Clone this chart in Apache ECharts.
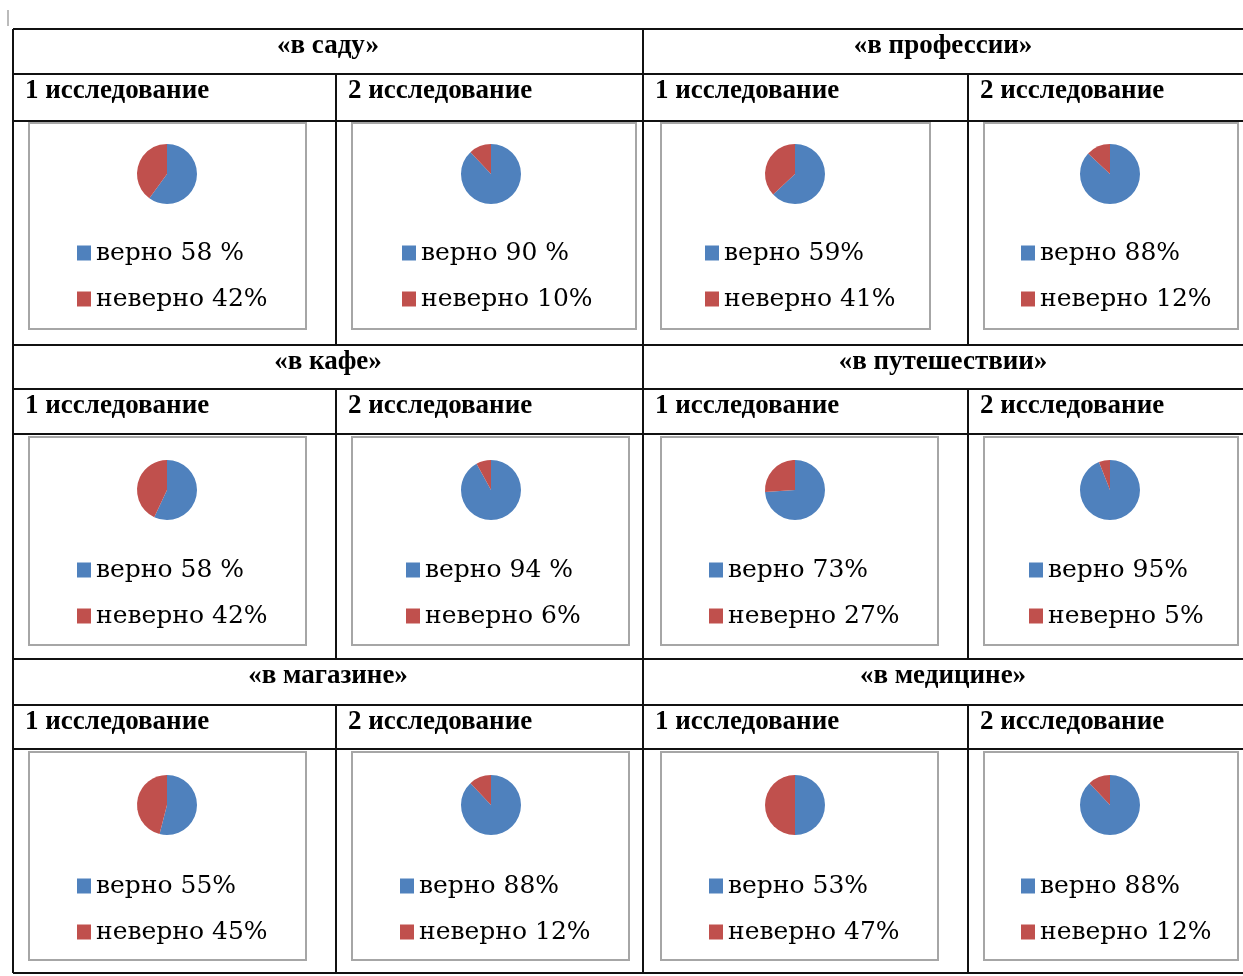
<!DOCTYPE html>
<html>
<head>
<meta charset="utf-8">
<script src="https://cdn.jsdelivr.net/npm/echarts@6/dist/echarts.min.js"></script>
<style>
  html, body { margin: 0; padding: 0; background: #fff; }
  #chartTable { width: 1243px; height: 976px; }
</style>
</head>
<body>
<div id="chartTable"></div>
<script>
// topics (two per block row) and study headers
const topics = ['«в саду»', '«в профессии»', '«в кафе»', '«в путешествии»', '«в магазине»', '«в медицине»'];
const studies = ['1 исследование', '2 исследование'];

// legend texts, one per pie, in reading order
const correctLabels = ['верно 58 %', 'верно 90 %', 'верно 59%', 'верно 88%',
  'верно 58 %', 'верно 94 %', 'верно 73%', 'верно 95%',
  'верно 55%', 'верно 88%', 'верно 53%', 'верно 88%'];
const wrongLabels = ['неверно 42%', 'неверно 10%', 'неверно 41%', 'неверно 12%',
  'неверно 42%', 'неверно 6%', 'неверно 27%', 'неверно 5%',
  'неверно 45%', 'неверно 12%', 'неверно 47%', 'неверно 12%'];

// slice sizes
const correctValues = [60, 88, 63, 87, 57, 92, 74, 94, 54, 88, 50, 88];
const wrongValues = [40, 12, 37, 13, 43, 8, 26, 6, 46, 12, 50, 12];

// layout
const colX = [13, 336, 643, 968, 1243];
const hLines = [29, 74, 121, 345, 389, 434, 659, 705, 749, 973];
const boxX = [[29, 306], [352, 636], [661, 930], [984, 1238],
  [29, 306], [352, 629], [661, 938], [984, 1238],
  [29, 306], [352, 629], [661, 938], [984, 1238]];
const boxY = [[123, 329], [437, 645], [752, 960]];
const pieX = [167, 491, 795, 1110];
const pieY = [174, 490, 805];
const legendLeft = [77, 402, 705, 1021, 77, 406, 709, 1029, 77, 400, 709, 1021];
const legendMid = [253, 570, 886];

const BLUE = '#4f81bd';
const RED = '#c0504d';
const LEGEND_FONT = 25;

let graphic = [];
// tiny mark in the corner
graphic.push({ type: 'line', shape: { x1: 8, y1: 10, x2: 8, y2: 26 }, style: { stroke: '#bbb', lineWidth: 2 } });

// chart frames (drawn before the rules so the rules stay on top)
for (let i = 0; i < 12; i++) {
  let r = Math.floor(i / 4);
  graphic.push({
    type: 'rect',
    shape: { x: boxX[i][0], y: boxY[r][0], width: boxX[i][1] - boxX[i][0], height: boxY[r][1] - boxY[r][0] },
    style: { fill: 'none', stroke: '#a6a6a6', lineWidth: 2 }
  });
}

// horizontal rules
hLines.forEach(function(y) {
  graphic.push({ type: 'line', shape: { x1: colX[0], y1: y, x2: colX[4], y2: y }, style: { stroke: '#111', lineWidth: 2 } });
});
// vertical rules
[colX[0], colX[2]].forEach(function(x) {
  graphic.push({ type: 'line', shape: { x1: x, y1: hLines[0], x2: x, y2: hLines[9] }, style: { stroke: '#111', lineWidth: 2 } });
});
for (let b = 0; b < 3; b++) {
  [colX[1], colX[3]].forEach(function(x) {
    graphic.push({ type: 'line', shape: { x1: x, y1: hLines[b * 3 + 1], x2: x, y2: hLines[b * 3 + 3] }, style: { stroke: '#111', lineWidth: 2 } });
  });
}

// header texts
for (let b = 0; b < 3; b++) {
  for (let h = 0; h < 2; h++) {
    let x0 = colX[h * 2], x1 = colX[h * 2 + 2];
    graphic.push({
      type: 'text',
      style: {
        text: topics[b * 2 + h], x: (x0 + x1) / 2, y: hLines[b * 3] + 17,
        align: 'center', verticalAlign: 'middle',
        font: 'bold 27px "Liberation Serif"', fill: '#000'
      }
    });
    for (let s = 0; s < 2; s++) {
      graphic.push({
        type: 'text',
        style: {
          text: studies[s], x: colX[h * 2 + s] + 12, y: hLines[b * 3 + 1] + 17,
          align: 'left', verticalAlign: 'middle',
          font: 'bold 27px "Liberation Serif"', fill: '#000'
        }
      });
    }
  }
}

let series = [];
let legend = [];
for (let i = 0; i < 12; i++) {
  let r = Math.floor(i / 4), c = i % 4;
  series.push({
    type: 'pie',
    center: [pieX[c], pieY[r]],
    radius: 30,
    startAngle: 90,
    silent: true,
    label: { show: false },
    labelLine: { show: false },
    data: [
      { name: correctLabels[i], value: correctValues[i], itemStyle: { color: BLUE } },
      { name: wrongLabels[i], value: wrongValues[i], itemStyle: { color: RED } }
    ]
  });
  legend.push({
    orient: 'vertical',
    left: legendLeft[i],
    top: legendMid[r] - LEGEND_FONT / 2,
    padding: 0,
    itemGap: 21,
    itemWidth: 14,
    itemHeight: 15,
    icon: 'rect',
    selectedMode: false,
    data: [correctLabels[i], wrongLabels[i]],
    textStyle: { fontFamily: 'DejaVu Serif', fontSize: LEGEND_FONT, color: '#000' }
  });
}

let chartTable = echarts.init(document.getElementById('chartTable'));
chartTable.setOption({
  animation: false,
  backgroundColor: '#fff',
  legend: legend,
  series: series,
  graphic: graphic
});
window.addEventListener('resize', () => {
  chartTable.resize();
});
</script>
</body>
</html>
